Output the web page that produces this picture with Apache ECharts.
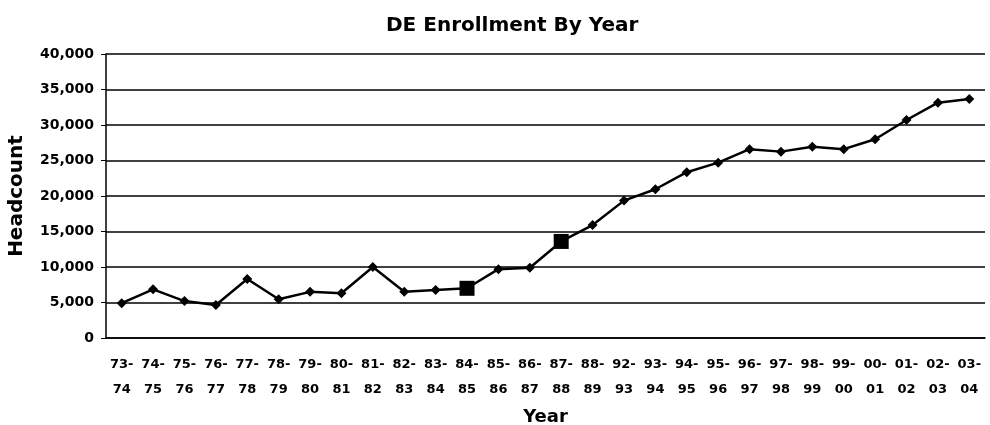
<!DOCTYPE html>
<html>
<head>
<meta charset="utf-8">
<script src="https://cdn.jsdelivr.net/npm/echarts@6/dist/echarts.min.js"></script>
<style>
  html, body { margin: 0; padding: 0; background: #fff; }
  #chart { width: 990px; height: 425px; }
</style>
</head>
<body>
<div id="chart"></div>
<script>
const years = ["73-74", "74-75", "75-76", "76-77", "77-78", "78-79", "79-80", "80-81",
  "81-82", "82-83", "83-84", "84-85", "85-86", "86-87", "87-88", "88-89", "92-93",
  "93-94", "94-95", "95-96", "96-97", "97-98", "98-99", "99-00", "00-01", "01-02",
  "02-03", "03-04"];
const headcount = [4900, 6850, 5200, 4650, 8300, 5450, 6500, 6300, 10000, 6500, 6750,
  7000, 9700, 9900, 13600, 15900, 19350, 20950, 23350, 24700, 26600, 26250, 26950,
  26600, 28000, 30700, 33150, 33650];
// years drawn with a big square marker instead of a diamond
const highlighted = ["84-85", "87-88"];

const font = "'DejaVu Sans', sans-serif";

const chart = echarts.init(document.getElementById("chart"));

const points = headcount.map((v, i) => {
  if (highlighted.includes(years[i])) {
    return { value: v, symbol: "rect", symbolSize: 15 };
  }
  return v;
});

chart.setOption({
  animation: false,
  backgroundColor: "#fff",
  title: {
    text: "DE Enrollment By Year",
    left: 381,
    top: 11,
    textStyle: { fontFamily: font, fontSize: 20, fontWeight: "bold", color: "#000" },
  },
  grid: { left: 106, right: 5, top: 54, bottom: 87, outerBoundsMode: "none" },
  xAxis: {
    type: "category",
    data: years,
    name: "Year",
    nameLocation: "middle",
    nameGap: 70,
    nameTextStyle: { fontFamily: font, fontSize: 18, fontWeight: "bold", color: "#000" },
    axisLine: { lineStyle: { color: "#000", width: 1.5 } },
    axisTick: { alignWithLabel: false, length: 5, lineStyle: { color: "#000" } },
    axisLabel: {
      interval: 0,
      margin: 14,
      lineHeight: 25,
      fontFamily: font,
      fontSize: 13,
      fontWeight: "bold",
      color: "#000",
      formatter: (s) => s.replace("-", "-\n"),
    },
  },
  yAxis: {
    type: "value",
    min: 0,
    max: 40000,
    interval: 5000,
    name: "Headcount",
    nameLocation: "middle",
    nameGap: 79,
    nameTextStyle: { fontFamily: font, fontSize: 20, fontWeight: "bold", color: "#000" },
    axisLine: { show: true, lineStyle: { color: "#000", width: 1.5 } },
    axisTick: { show: true, length: 5, lineStyle: { color: "#000" } },
    splitLine: { lineStyle: { color: "#000", width: 1.5 } },
    axisLabel: {
      margin: 12,
      fontFamily: font,
      fontSize: 14,
      fontWeight: "bold",
      color: "#000",
      formatter: (v) => v.toLocaleString("en-US"),
    },
  },
  series: [
    {
      type: "line",
      data: points,
      symbol: "diamond",
      symbolSize: 10,
      showAllSymbol: true,
      lineStyle: { color: "#000", width: 2.5 },
      itemStyle: { color: "#000" },
    },
  ],
});
</script>
</body>
</html>
